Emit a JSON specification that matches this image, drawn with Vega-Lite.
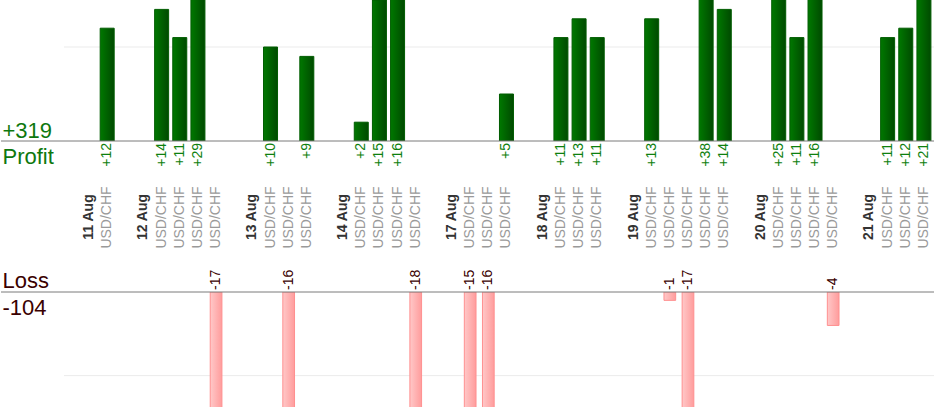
{
  "$schema": "https://vega.github.io/schema/vega-lite/v6.json",
  "padding": 0,
  "bounds": "flush",
  "spacing": 151,
  "background": "white",
  "config": {"view": {"stroke": null}, "font": "Liberation Sans"},
  "datasets": {
    "trades": [
      {"slot": 0, "kind": "date", "label": "11 Aug"},
      {"slot": 1, "kind": "trade", "label": "USD/CHF", "pnl": 12},
      {"slot": 3, "kind": "date", "label": "12 Aug"},
      {"slot": 4, "kind": "trade", "label": "USD/CHF", "pnl": 14},
      {"slot": 5, "kind": "trade", "label": "USD/CHF", "pnl": 11},
      {"slot": 6, "kind": "trade", "label": "USD/CHF", "pnl": 29},
      {"slot": 7, "kind": "trade", "label": "USD/CHF", "pnl": -17},
      {"slot": 9, "kind": "date", "label": "13 Aug"},
      {"slot": 10, "kind": "trade", "label": "USD/CHF", "pnl": 10},
      {"slot": 11, "kind": "trade", "label": "USD/CHF", "pnl": -16},
      {"slot": 12, "kind": "trade", "label": "USD/CHF", "pnl": 9},
      {"slot": 14, "kind": "date", "label": "14 Aug"},
      {"slot": 15, "kind": "trade", "label": "USD/CHF", "pnl": 2},
      {"slot": 16, "kind": "trade", "label": "USD/CHF", "pnl": 15},
      {"slot": 17, "kind": "trade", "label": "USD/CHF", "pnl": 16},
      {"slot": 18, "kind": "trade", "label": "USD/CHF", "pnl": -18},
      {"slot": 20, "kind": "date", "label": "17 Aug"},
      {"slot": 21, "kind": "trade", "label": "USD/CHF", "pnl": -15},
      {"slot": 22, "kind": "trade", "label": "USD/CHF", "pnl": -16},
      {"slot": 23, "kind": "trade", "label": "USD/CHF", "pnl": 5},
      {"slot": 25, "kind": "date", "label": "18 Aug"},
      {"slot": 26, "kind": "trade", "label": "USD/CHF", "pnl": 11},
      {"slot": 27, "kind": "trade", "label": "USD/CHF", "pnl": 13},
      {"slot": 28, "kind": "trade", "label": "USD/CHF", "pnl": 11},
      {"slot": 30, "kind": "date", "label": "19 Aug"},
      {"slot": 31, "kind": "trade", "label": "USD/CHF", "pnl": 13},
      {"slot": 32, "kind": "trade", "label": "USD/CHF", "pnl": -1},
      {"slot": 33, "kind": "trade", "label": "USD/CHF", "pnl": -17},
      {"slot": 34, "kind": "trade", "label": "USD/CHF", "pnl": 38},
      {"slot": 35, "kind": "trade", "label": "USD/CHF", "pnl": 14},
      {"slot": 37, "kind": "date", "label": "20 Aug"},
      {"slot": 38, "kind": "trade", "label": "USD/CHF", "pnl": 25},
      {"slot": 39, "kind": "trade", "label": "USD/CHF", "pnl": 11},
      {"slot": 40, "kind": "trade", "label": "USD/CHF", "pnl": 16},
      {"slot": 41, "kind": "trade", "label": "USD/CHF", "pnl": -4},
      {"slot": 43, "kind": "date", "label": "21 Aug"},
      {"slot": 44, "kind": "trade", "label": "USD/CHF", "pnl": 11},
      {"slot": 45, "kind": "trade", "label": "USD/CHF", "pnl": 12},
      {"slot": 46, "kind": "trade", "label": "USD/CHF", "pnl": 21}
    ]
  },
  "vconcat": [
    {
      "width": 934,
      "height": 141,
      "layer": [
        {
          "data": {"values": [{"level": 10}]},
          "mark": {"type": "rule", "color": "#ebebeb", "strokeWidth": 1},
          "encoding": {
            "x": {"datum": -1.38, "type": "quantitative", "scale": {"domain": [-4.85, 46.61], "nice": false, "zero": false, "padding": 0}, "axis": null},
            "x2": {"datum": 46.61},
            "y": {"field": "level", "type": "quantitative", "scale": {"domain": [0, 15], "nice": false},
              "axis": {"title": ["+319", "Profit"], "titleAngle": 0, "titleAlign": "left", "titleBaseline": "alphabetic",
                "titleX": 1, "titleY": 137, "titleLineHeight": 26, "titleFontSize": 22, "titleFontWeight": "normal",
                "titleColor": "#0e780e", "titleFont": "Liberation Sans", "labels": false, "ticks": false, "domain": false, "grid": false}}
          }
        },
        {
          "data": {"name": "trades"},
          "transform": [{"filter": "datum.pnl > 0"}],
          "mark": {"type": "bar", "width": 14, "clip": true, "stroke": "#005c00", "strokeWidth": 1,
            "fill": {"gradient": "linear", "x1": 0, "y1": 0, "x2": 1, "y2": 0,
              "stops": [{"offset": 0, "color": "#007800"}, {"offset": 1, "color": "#004a00"}]}},
          "encoding": {
            "x": {"field": "slot", "type": "quantitative"},
            "y": {"field": "pnl", "type": "quantitative"}
          }
        },
        {
          "data": {"values": [{"level": 0}]},
          "mark": {"type": "rule", "color": "#7a7a7a", "strokeWidth": 1},
          "encoding": {"y": {"field": "level", "type": "quantitative"}}
        },
        {
          "data": {"name": "trades"},
          "transform": [{"filter": "datum.pnl > 0"}],
          "mark": {"type": "text", "angle": 270, "align": "right", "baseline": "middle", "dx": -2, "fontSize": 14, "color": "#0e800e"},
          "encoding": {
            "x": {"field": "slot", "type": "quantitative"},
            "y": {"datum": 0},
            "text": {"field": "pnl", "type": "quantitative", "format": "+d"}
          }
        },
        {
          "data": {"name": "trades"},
          "transform": [{"filter": "datum.kind == 'date'"}],
          "mark": {"type": "text", "angle": 270, "align": "center", "baseline": "middle", "dx": -76, "fontSize": 14, "fontWeight": "bold", "color": "#333333"},
          "encoding": {
            "x": {"field": "slot", "type": "quantitative"},
            "y": {"datum": 0},
            "text": {"field": "label", "type": "nominal"}
          }
        },
        {
          "data": {"name": "trades"},
          "transform": [{"filter": "datum.kind == 'trade'"}],
          "mark": {"type": "text", "angle": 270, "align": "center", "baseline": "middle", "dx": -76.5, "fontSize": 14, "color": "#9a9a9a"},
          "encoding": {
            "x": {"field": "slot", "type": "quantitative"},
            "y": {"datum": 0},
            "text": {"field": "label", "type": "nominal"}
          }
        }
      ]
    },
    {
      "width": 934,
      "height": 115,
      "layer": [
        {
          "data": {"values": [{"level": -10}]},
          "mark": {"type": "rule", "color": "#ebebeb", "strokeWidth": 1},
          "encoding": {
            "x": {"datum": -1.38, "type": "quantitative", "scale": {"domain": [-4.85, 46.61], "nice": false, "zero": false, "padding": 0}, "axis": null},
            "x2": {"datum": 46.61},
            "y": {"field": "level", "type": "quantitative", "scale": {"domain": [-13.75, 0], "nice": false},
              "axis": {"title": ["Loss", "-104"], "titleAngle": 0, "titleAlign": "left", "titleBaseline": "alphabetic",
                "titleX": 1, "titleY": -5, "titleLineHeight": 27, "titleFontSize": 22, "titleFontWeight": "normal",
                "titleColor": "#3a0000", "titleFont": "Liberation Sans", "labels": false, "ticks": false, "domain": false, "grid": false}}
          }
        },
        {
          "data": {"name": "trades"},
          "transform": [{"filter": "datum.pnl < 0"}],
          "mark": {"type": "bar", "width": 11.7, "clip": true, "stroke": "#ff9090", "strokeWidth": 1,
            "fill": {"gradient": "linear", "x1": 0, "y1": 0, "x2": 1, "y2": 0,
              "stops": [{"offset": 0, "color": "#ffc8c8"}, {"offset": 1, "color": "#ff9c9c"}]}},
          "encoding": {
            "x": {"field": "slot", "type": "quantitative"},
            "y": {"field": "pnl", "type": "quantitative"}
          }
        },
        {
          "data": {"values": [{"level": 0}]},
          "mark": {"type": "rule", "color": "#7a7a7a", "strokeWidth": 1},
          "encoding": {"y": {"field": "level", "type": "quantitative"}}
        },
        {
          "data": {"name": "trades"},
          "transform": [{"filter": "datum.pnl < 0"}],
          "mark": {"type": "text", "angle": 270, "align": "left", "baseline": "middle", "dx": 2, "fontSize": 14, "color": "#3a0000"},
          "encoding": {
            "x": {"field": "slot", "type": "quantitative"},
            "y": {"datum": 0},
            "text": {"field": "pnl", "type": "nominal"}
          }
        }
      ]
    }
  ]
}
